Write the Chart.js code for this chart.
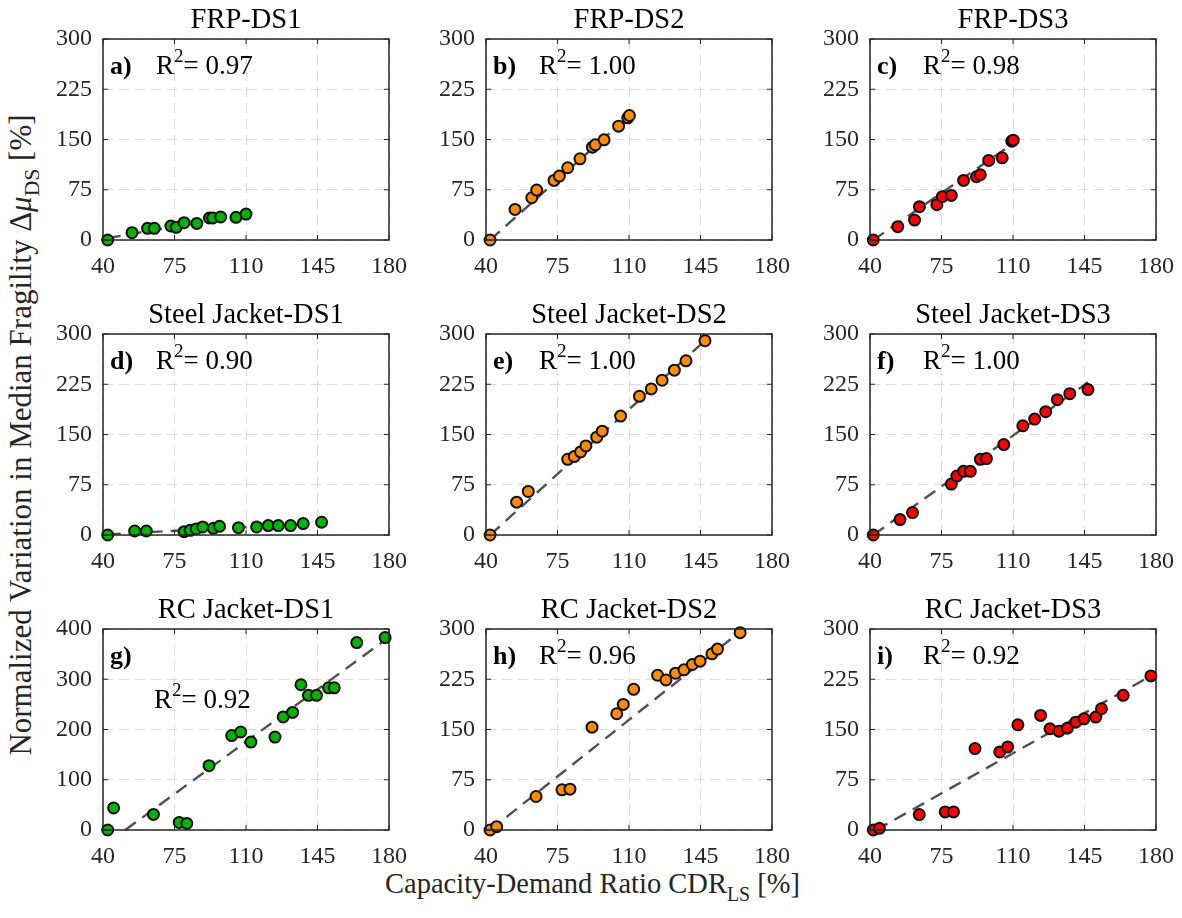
<!DOCTYPE html>
<html>
<head>
<meta charset="utf-8">
<script src="https://cdn.jsdelivr.net/npm/chart.js@4.4.1/dist/chart.umd.min.js"></script>
<style>
  body { margin: 0; background: #fff; width: 1182px; height: 918px; position: relative; overflow: hidden;
         font-family: "Liberation Serif", "Times New Roman", serif; color: #262626; }
  canvas { position: absolute; }
  .lab { position: absolute; white-space: nowrap; line-height: 1; }
  .lab sub { font-size: 70%; vertical-align: -0.4em; line-height: 0; }
  #ylab { left: 20px; top: 435px; font-size: 31px; transform: translate(-50%, -50%) rotate(-90deg); }
  #xlab { left: 385px; top: 870px; font-size: 28.5px; }
</style>
</head>
<body>
<div id="ylab" class="lab">Normalized Variation in Median Fragility &Delta;<i>&mu;</i><sub>DS</sub> [%]</div>
<div id="xlab" class="lab">Capacity-Demand Ratio CDR<sub>LS</sub> [%]</div>

<script>
// tick labels
const xTicks = [40, 75, 110, 145, 180];
const yTicks = [0, 75, 150, 225, 300];
const yTicksRc1 = [0, 100, 200, 300, 400];

const titles = ['FRP-DS1', 'FRP-DS2', 'FRP-DS3',
  'Steel Jacket-DS1', 'Steel Jacket-DS2', 'Steel Jacket-DS3',
  'RC Jacket-DS1', 'RC Jacket-DS2', 'RC Jacket-DS3'];
const panelTags = ['a)', 'b)', 'c)', 'd)', 'e)', 'f)', 'g)', 'h)', 'i)'];
const r2Values = ['0.97', '1.00', '0.98', '0.90', '1.00', '1.00', '0.92', '0.96', '0.92'];

// CDR_LS [%] and normalized variation [%]
const frpDs1X = [42.3, 54.2, 61.8, 65.1, 73.2, 75.8, 79.7, 85.9, 92.1, 93.7, 97.6, 105.1, 110.0];
const frpDs1Y = [0, 10.9, 17.4, 17.4, 20.9, 18.9, 25.8, 24.8, 32.8, 32.8, 34.3, 33.8, 38.7];
const frpDs2X = [42, 54.2, 62.4, 64.8, 73.3, 75.9, 80, 86, 92.1, 93.5, 97.8, 104.9, 109.4, 110.2];
const frpDs2Y = [0, 45.7, 63.1, 74.5, 88.9, 95.4, 107.8, 121.2, 138.6, 142.1, 149.5, 169.9, 182.3, 185.8];
const frpDs3X = [41.6, 53.6, 61.8, 64.2, 72.7, 75.4, 79.8, 85.8, 92.1, 94, 98.1, 104.7, 109.4, 110.1];
const frpDs3Y = [0, 19.9, 29.8, 49.7, 52.7, 64.6, 66.6, 88.9, 94.4, 97.4, 118.7, 122.7, 147.5, 149];

const sjDs1X = [42.3, 55.5, 61.2, 79.7, 82.7, 85.6, 88.8, 94, 97, 106.3, 115.2, 120.9, 125.8, 131.8, 138, 147];
const sjDs1Y = [0, 6, 6, 5, 7, 9, 12, 10, 13, 11, 12, 14, 14, 14, 17, 19];
const sjDs2X = [42, 55, 60.7, 80, 83.2, 86.3, 88.9, 94.2, 96.9, 105.9, 115.1, 120.9, 126.2, 132.2, 137.9, 147.2];
const sjDs2Y = [0, 49, 65, 113, 117, 124, 133, 146, 155, 177.5, 207, 218, 231, 246, 260, 290];
const sjDs3X = [41.6, 54.7, 60.8, 79.8, 82.5, 85.8, 89.1, 94, 97, 105.5, 114.8, 120.6, 126, 131.7, 137.8, 146.7];
const sjDs3Y = [0, 23, 33.5, 76, 88, 95, 95, 113, 114, 135, 163, 173, 184, 202, 211, 217];

const rcDs1X = [42.3, 45.2, 64.7, 77.3, 81, 91.9, 103, 107.4, 112.4, 124.2, 128.2, 132.8, 136.9, 140.6, 144.5, 150.4, 153.2, 164.2, 178.1];
const rcDs1Y = [0, 44, 31, 15, 13, 128, 188, 195, 175, 185, 225, 234, 289, 268, 268, 283, 283, 373, 383];
const rcDs2X = [42, 45.2, 64.5, 77.2, 81.1, 91.9, 104, 107.2, 112.3, 124, 128.1, 132.8, 136.9, 141, 144.8, 150.6, 153.3, 164.4];
const rcDs2Y = [0, 5, 50, 60, 61, 153.5, 173.5, 187.5, 210, 231, 224, 234, 239, 247, 252, 263, 270, 294.5];
const rcDs3X = [41.6, 44.6, 64.1, 76.8, 80.9, 91.4, 103.5, 107.4, 112.4, 123.5, 128.1, 132.5, 136.6, 140.7, 144.8, 150.5, 153.3, 163.9, 177.5];
const rcDs3Y = [0, 2.5, 23, 27, 27, 121.5, 116.5, 124, 157, 171, 151, 147.5, 152, 161, 166, 168.5, 181, 201, 230];

// dashed regression lines: [x0, x1] and [y0, y1]
const fitX = [[42.3, 110], [42, 110.2], [41.6, 110.1], [42.3, 147], [42, 147.2], [41.6, 146.7], [50.9, 178.1], [42, 164.4], [43, 177.5]];
const fitY = [[3, 38], [0, 186], [0, 144], [1, 18], [0, 290], [0, 228], [0, 378], [0, 296], [0, 230]];

const seriesX = [frpDs1X, frpDs2X, frpDs3X, sjDs1X, sjDs2X, sjDs3X, rcDs1X, rcDs2X, rcDs3X];
const seriesY = [frpDs1Y, frpDs2Y, frpDs3Y, sjDs1Y, sjDs2Y, sjDs3Y, rcDs1Y, rcDs2Y, rcDs3Y];
const fillColors = ['#00b400', '#ff8c00', '#ff0000'];

const FONT = '"Liberation Serif", "Times New Roman", serif';
const colLeft = [103, 486, 870];
const rowTop = [39, 334, 629];
const plotW = 286, plotH = 201;
const padL = 75, padT = 42, padR = 25, padB = 50;

// box, inward ticks, title and annotations
const framePlugin = {
  id: 'frame',
  afterDraw(chart, args, opts) {
    const { ctx, chartArea: a, scales } = chart;
    ctx.save();
    ctx.strokeStyle = '#262626';
    ctx.lineWidth = 1.5;
    ctx.strokeRect(a.left, a.top, a.right - a.left, a.bottom - a.top);
    ctx.lineWidth = 1;
    ctx.beginPath();
    scales.x.ticks.forEach(t => {
      const px = scales.x.getPixelForValue(t.value);
      ctx.moveTo(px, a.bottom); ctx.lineTo(px, a.bottom - 5);
      ctx.moveTo(px, a.top); ctx.lineTo(px, a.top + 5);
    });
    scales.y.ticks.forEach(t => {
      const py = scales.y.getPixelForValue(t.value);
      ctx.moveTo(a.left, py); ctx.lineTo(a.left + 5, py);
      ctx.moveTo(a.right, py); ctx.lineTo(a.right - 5, py);
    });
    ctx.stroke();

    ctx.fillStyle = '#000';
    ctx.textAlign = 'center';
    ctx.textBaseline = 'alphabetic';
    ctx.font = '28.5px ' + FONT;
    ctx.fillText(opts.title, (a.left + a.right) / 2, a.top - 11);

    ctx.textAlign = 'left';
    ctx.font = 'bold 26px ' + FONT;
    ctx.fillText(opts.tag, a.left + 7, a.top + 35);

    const rx = a.left + opts.r2dx, ry = a.top + opts.r2dy;
    ctx.font = '27px ' + FONT;
    ctx.fillText('R', rx, ry);
    let w = ctx.measureText('R').width;
    ctx.font = '19px ' + FONT;
    ctx.fillText('2', rx + w, ry - 12);
    w += ctx.measureText('2').width;
    ctx.font = '27px ' + FONT;
    ctx.fillText('= ' + opts.r2, rx + w, ry);
    ctx.restore();
  }
};

for (let i = 0; i < 9; i++) {
  const r = Math.floor(i / 3), c = i % 3;
  const canvas = document.createElement('canvas');
  canvas.width = plotW + padL + padR;
  canvas.height = plotH + padT + padB;
  canvas.style.left = (colLeft[c] - padL) + 'px';
  canvas.style.top = (rowTop[r] - padT) + 'px';
  document.body.appendChild(canvas);

  const isRc1 = i === 6;
  const yt = isRc1 ? yTicksRc1 : yTicks;
  const points = seriesX[i].map((x, k) => ({ x, y: seriesY[i][k] }));
  const fit = fitX[i].map((x, k) => ({ x, y: fitY[i][k] }));

  new Chart(canvas, {
    type: 'scatter',
    data: {
      datasets: [
        {
          data: points,
          pointRadius: 5.5,
          pointBackgroundColor: fillColors[c],
          pointBorderColor: '#111',
          pointBorderWidth: 2,
          showLine: false,
          clip: false
        },
        {
          type: 'line',
          data: fit,
          borderColor: '#505050',
          borderWidth: 2.4,
          borderDash: [13, 8],
          pointRadius: 0,
          fill: false,
          clip: false
        }
      ]
    },
    options: {
      responsive: false,
      animation: false,
      events: [],
      layout: { padding: { left: 0, top: padT, right: padR, bottom: 0 } },
      plugins: {
        legend: { display: false },
        tooltip: { enabled: false },
        frame: {
          title: titles[i], tag: panelTags[i], r2: r2Values[i],
          r2dx: isRc1 ? 51 : 53, r2dy: isRc1 ? 79 : 35
        }
      },
      scales: {
        x: {
          type: 'linear', min: xTicks[0], max: xTicks[xTicks.length - 1],
          afterBuildTicks: s => { s.ticks = xTicks.map(v => ({ value: v })); },
          ticks: { font: { family: FONT, size: 24 }, color: '#262626', padding: 12, maxRotation: 0 },
          grid: { color: '#dcdcdc', lineWidth: 1, drawTicks: false },
          border: { display: false, dash: [10, 6] },
          afterFit: s => { s.height = padB; s.paddingLeft = 0; s.paddingRight = 0; }
        },
        y: {
          type: 'linear', min: yt[0], max: yt[yt.length - 1],
          afterBuildTicks: s => { s.ticks = yt.map(v => ({ value: v })); },
          ticks: { font: { family: FONT, size: 24 }, color: '#262626', padding: 11 },
          grid: { color: '#dcdcdc', lineWidth: 1, drawTicks: false },
          border: { display: false, dash: [10, 6] },
          afterFit: s => { s.width = padL; s.paddingTop = 0; s.paddingBottom = 0; }
        }
      }
    },
    plugins: [framePlugin]
  });
}
</script>
</body>
</html>
